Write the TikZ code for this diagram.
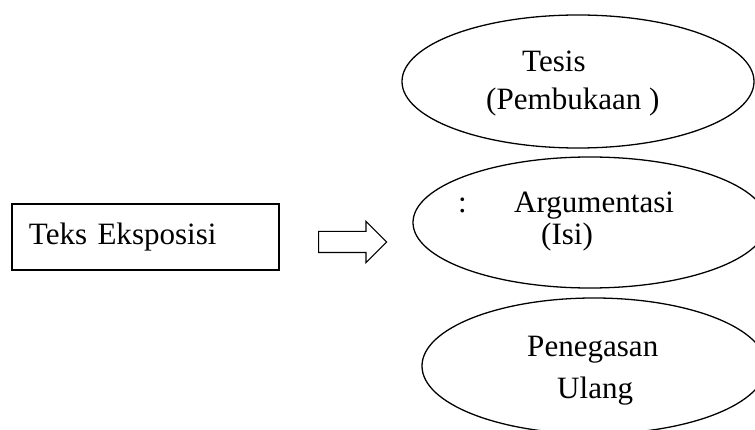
\documentclass[tikz,border=0pt]{standalone}
\usepackage{fontspec}
\setmainfont{Liberation Serif}
\usetikzlibrary{shapes.geometric,shapes.arrows,positioning}
\tikzset{teksbox/.style={draw,line width=1.5pt,text width=6.99cm,align=left,inner xsep=0.51cm,
    inner ysep=0pt,minimum height=1.98cm,font=\fontsize{26.5}{32}\selectfont},
  bagian/.style={draw,ellipse,line width=1.1pt,inner sep=0pt},
  tulisan/.style={anchor=base west,inner sep=0pt,font=\fontsize{26.5}{32}\selectfont},
  panahblok/.style={draw,single arrow,line width=0.9pt,inner xsep=0pt,inner ysep=0.3cm,
    single arrow head extend=0.3cm,minimum height=2.04cm}}

\begin{document}
\begin{tikzpicture}[x=0.03cm,y=-0.03cm]
% 1 unit = 1 px of the 755 x 430 frame
\clip (0,0) rectangle (755,430);
\node[teksbox] (teks) at (145.5,237) {Teks Eksposisi};
\node[panahblok,anchor=tail] (panah) at (318,242) {};
% the three parts
\node[bagian,minimum width=10.56cm,minimum height=3.99cm] (tesis) at (578,81.5) {};
\node[bagian,minimum width=10.62cm,minimum height=3.93cm] (argumen) at (590,222.5) {};
\node[bagian,minimum width=10.32cm,minimum height=4.08cm] (penegasan) at (594,366) {};
\node[tulisan] (tesisA) at (522,72) {Tesis};
\node[tulisan] (tesisB) at (486,110) {(Pembukaan )};
\node[tulisan] (titik) at (458,213) {:};
\node[tulisan] (argumenA) at (514,213) {Argumentasi};
\node[tulisan] (argumenB) at (541,245) {(Isi)};
\node[tulisan] (penegasanA) at (527,357) {Penegasan};
\node[tulisan] (penegasanB) at (557,398) {Ulang};
\end{tikzpicture}
\end{document}
